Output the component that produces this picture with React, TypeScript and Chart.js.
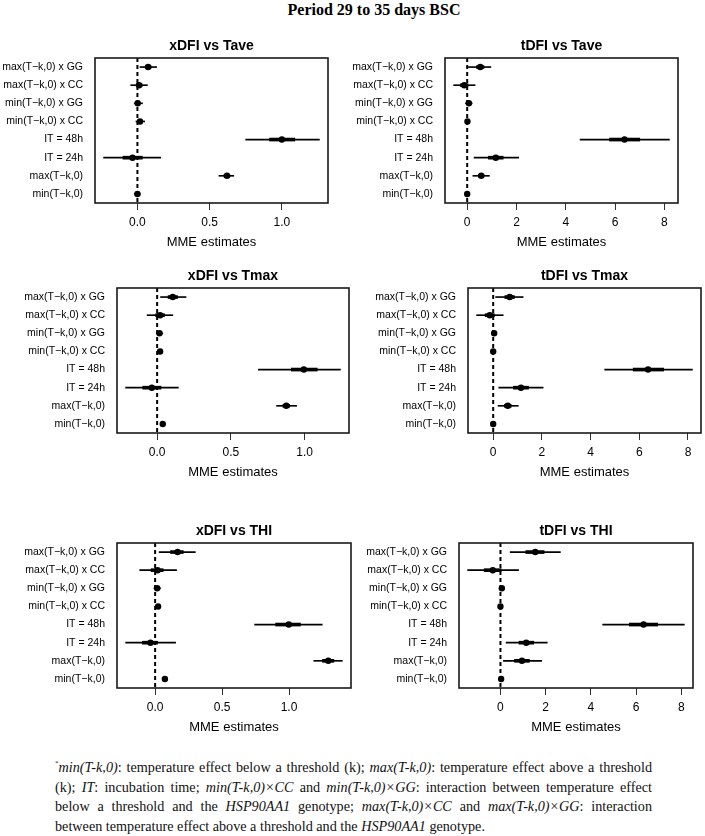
import React, { useEffect, useRef } from 'react';
import { Chart, registerables } from 'chart.js';

Chart.register(...registerables);
Chart.defaults.font.family = '"Liberation Sans", Arial, Helvetica, sans-serif';
Chart.defaults.color = '#000';

// Terms (top to bottom)
const termLabels = [
  'max(T−k,0) x GG',
  'max(T−k,0) x CC',
  'min(T−k,0) x GG',
  'min(T−k,0) x CC',
  'IT = 48h',
  'IT = 24h',
  'max(T−k,0)',
  'min(T−k,0)',
];

const xdfiTicks = [0, 0.5, 1.0];
const tdfiTicks = [0, 2, 4, 6, 8];

// xDFI vs Tave
const xTaveEst = [0.074, 0.012, 0.002, 0.018, 1.0, -0.034, 0.62, 0.0];
const xTaveLo95 = [0.018, -0.046, -0.022, -0.01, 0.75, -0.234, 0.565, -0.022];
const xTaveHi95 = [0.133, 0.069, 0.035, 0.05, 1.26, 0.161, 0.667, 0.02];
const xTaveLo50 = [0.054, -0.008, -0.01, 0.007, 0.915, -0.1, 0.6, -0.008];
const xTaveHi50 = [0.094, 0.032, 0.015, 0.029, 1.09, 0.034, 0.64, 0.008];

// tDFI vs Tave
const tTaveEst = [0.53, -0.12, 0.07, 0.01, 6.38, 1.16, 0.57, 0.0];
const tTaveLo95 = [0.05, -0.55, -0.07, -0.06, 4.58, 0.28, 0.23, -0.05];
const tTaveHi95 = [0.96, 0.32, 0.2, 0.08, 8.2, 2.09, 0.9, 0.05];
const tTaveLo50 = [0.38, -0.27, 0.03, -0.02, 5.77, 0.86, 0.46, -0.02];
const tTaveHi50 = [0.68, 0.03, 0.12, 0.04, 7.0, 1.46, 0.68, 0.02];

// xDFI vs Tmax
const xTmaxEst = [0.106, 0.02, 0.016, 0.02, 0.995, -0.036, 0.876, 0.038];
const xTmaxLo95 = [0.023, -0.068, -0.006, 0.002, 0.687, -0.214, 0.81, 0.022];
const xTmaxHi95 = [0.196, 0.106, 0.038, 0.038, 1.243, 0.144, 0.946, 0.054];
const xTmaxLo50 = [0.074, -0.01, 0.008, 0.014, 0.91, -0.098, 0.853, 0.032];
const xTmaxHi50 = [0.138, 0.05, 0.024, 0.026, 1.086, 0.026, 0.899, 0.044];

// tDFI vs Tmax
const tTmaxEst = [0.68, -0.14, 0.04, 0.0, 6.36, 1.14, 0.6, 0.0];
const tTmaxLo95 = [0.1, -0.68, -0.05, -0.06, 4.58, 0.23, 0.2, -0.05];
const tTmaxHi95 = [1.23, 0.41, 0.13, 0.06, 8.18, 2.05, 1.03, 0.05];
const tTmaxLo50 = [0.48, -0.33, 0.01, -0.02, 5.75, 0.83, 0.46, -0.02];
const tTmaxHi50 = [0.87, 0.05, 0.07, 0.02, 7.0, 1.45, 0.74, 0.02];

// xDFI vs THI
const xThiEst = [0.168, 0.018, 0.015, 0.022, 0.998, -0.035, 1.293, 0.073];
const xThiLo95 = [0.03, -0.115, -0.008, 0.002, 0.743, -0.22, 1.185, 0.055];
const xThiHi95 = [0.3, 0.16, 0.04, 0.042, 1.248, 0.153, 1.398, 0.09];
const xThiLo50 = [0.115, -0.03, 0.006, 0.014, 0.9, -0.095, 1.25, 0.066];
const xThiHi50 = [0.21, 0.06, 0.024, 0.03, 1.085, 0.018, 1.335, 0.08];

// tDFI vs THI
const tThiEst = [1.54, -0.34, 0.06, 0.0, 6.33, 1.14, 0.95, 0.03];
const tThiLo95 = [0.43, -1.45, -0.05, -0.05, 4.52, 0.25, 0.13, -0.04];
const tThiHi95 = [2.65, 0.8, 0.17, 0.06, 8.13, 2.07, 1.82, 0.1];
const tThiLo50 = [1.12, -0.72, 0.02, -0.02, 5.7, 0.82, 0.62, 0.0];
const tThiHi50 = [1.93, 0.03, 0.1, 0.02, 6.95, 1.47, 1.28, 0.06];

type PanelDef = {
  title: string;
  est: number[];
  lo95: number[];
  hi95: number[];
  lo50: number[];
  hi50: number[];
  ticks: number[];
  decimals: number;
  left: number;
  top: number;
  w: number;
};

const Y_W = 95;
const TITLE_BLOCK = 26;
const BOX_H = 145;
const X_H = 50;
const RIGHT_PAD = 4;

const panels: PanelDef[] = [
  { title: 'xDFI vs Tave', est: xTaveEst, lo95: xTaveLo95, hi95: xTaveHi95, lo50: xTaveLo50, hi50: xTaveHi50, ticks: xdfiTicks, decimals: 1, left: 95, top: 58, w: 233 },
  { title: 'tDFI vs Tave', est: tTaveEst, lo95: tTaveLo95, hi95: tTaveHi95, lo50: tTaveLo50, hi50: tTaveHi50, ticks: tdfiTicks, decimals: 0, left: 445, top: 58, w: 233 },
  { title: 'xDFI vs Tmax', est: xTmaxEst, lo95: xTmaxLo95, hi95: xTmaxHi95, lo50: xTmaxLo50, hi50: xTmaxHi50, ticks: xdfiTicks, decimals: 1, left: 117, top: 288, w: 232 },
  { title: 'tDFI vs Tmax', est: tTmaxEst, lo95: tTmaxLo95, hi95: tTmaxHi95, lo50: tTmaxLo50, hi50: tTmaxHi50, ticks: tdfiTicks, decimals: 0, left: 468, top: 288, w: 233 },
  { title: 'xDFI vs THI', est: xThiEst, lo95: xThiLo95, hi95: xThiHi95, lo50: xThiLo50, hi50: xThiHi50, ticks: xdfiTicks, decimals: 1, left: 117, top: 543, w: 234 },
  { title: 'tDFI vs THI', est: tThiEst, lo95: tThiLo95, hi95: tThiHi95, lo50: tThiLo50, hi50: tThiHi50, ticks: tdfiTicks, decimals: 0, left: 459, top: 543, w: 234 },
];

const framePlugin = {
  id: 'frameAndZero',
  beforeDatasetsDraw(chart: any) {
    const { ctx, chartArea, scales } = chart;
    const x0 = scales.x.getPixelForValue(0);
    ctx.save();
    ctx.strokeStyle = '#000';
    ctx.lineWidth = 2;
    ctx.setLineDash([4, 3]);
    ctx.beginPath();
    ctx.moveTo(x0, chartArea.top);
    ctx.lineTo(x0, chartArea.bottom);
    ctx.stroke();
    ctx.restore();
  },
  afterDraw(chart: any) {
    const { ctx, chartArea } = chart;
    ctx.save();
    ctx.strokeStyle = '#1a1a1a';
    ctx.lineWidth = 1.6;
    ctx.strokeRect(chartArea.left, chartArea.top, chartArea.right - chartArea.left, chartArea.bottom - chartArea.top);
    ctx.restore();
  },
};

function Panel({ p }: { p: PanelDef }) {
  const ref = useRef<HTMLCanvasElement>(null);
  const cw = Y_W + p.w + RIGHT_PAD;
  const ch = TITLE_BLOCK + BOX_H + X_H;
  useEffect(() => {
    const lo = Math.min(...p.lo95);
    const hi = Math.max(...p.hi95);
    const pad = (hi - lo) * 0.04;
    const chart = new Chart(ref.current as HTMLCanvasElement, {
      type: 'bar',
      data: {
        labels: termLabels,
        datasets: [
          {
            type: 'line',
            indexAxis: 'y',
            data: p.est,
            showLine: false,
            pointRadius: 3.2,
            pointHoverRadius: 3.2,
            pointBackgroundColor: '#000',
            pointBorderWidth: 0,
            order: 1,
          } as any,
          {
            type: 'bar',
            indexAxis: 'y',
            data: p.lo50.map((v, i) => [v, p.hi50[i]]),
            backgroundColor: '#000',
            borderWidth: 0,
            barThickness: 3,
            grouped: false,
            order: 2,
          } as any,
          {
            type: 'bar',
            indexAxis: 'y',
            data: p.lo95.map((v, i) => [v, p.hi95[i]]),
            backgroundColor: '#000',
            borderWidth: 0,
            barThickness: 1,
            grouped: false,
            order: 3,
          } as any,
        ],
      },
      options: {
        indexAxis: 'y',
        animation: false,
        responsive: false,
        maintainAspectRatio: false,
        devicePixelRatio: 1,
        events: [],
        layout: { padding: { top: 0, right: RIGHT_PAD, bottom: 0, left: 0 } },
        plugins: {
          legend: { display: false },
          tooltip: { enabled: false },
          title: {
            display: true,
            text: p.title,
            fullSize: false,
            color: '#000',
            font: { size: 14, weight: 'bold', lineHeight: 1.2 },
            padding: { top: 6, bottom: 3.2 },
          },
        },
        scales: {
          x: {
            type: 'linear',
            position: 'bottom',
            min: lo - pad,
            max: hi + pad,
            afterBuildTicks: (s: any) => {
              s.ticks = p.ticks.map((v) => ({ value: v }));
            },
            afterFit: (s: any) => {
              s.height = X_H;
            },
            ticks: {
              color: '#000',
              font: { size: 12 },
              padding: 5,
              maxRotation: 0,
              callback: (v: any) => Number(v).toFixed(p.decimals),
            },
            grid: {
              drawOnChartArea: false,
              drawTicks: true,
              tickLength: 7,
              color: '#333',
              lineWidth: 1,
            },
            border: { display: false },
            title: {
              display: true,
              text: 'MME estimates',
              color: '#000',
              font: { size: 13, lineHeight: 1.2 },
              padding: { top: 2, bottom: 3 },
            },
          },
          y: {
            type: 'category',
            position: 'left',
            offset: true,
            afterFit: (s: any) => {
              s.width = Y_W;
            },
            grid: { display: false, drawTicks: false },
            border: { display: false },
            ticks: { color: '#000', font: { size: 10.5 }, padding: 12, autoSkip: false },
          },
        },
      } as any,
      plugins: [framePlugin],
    });
    return () => chart.destroy();
  }, []);
  return (
    <canvas
      ref={ref}
      width={cw}
      height={ch}
      style={{ position: 'absolute', left: p.left - Y_W, top: p.top - TITLE_BLOCK, width: cw, height: ch }}
    />
  );
}

export default function App() {
  const serif = '"Liberation Serif", "Times New Roman", Times, serif';
  const just: React.CSSProperties = { textAlign: 'justify', textAlignLast: 'justify' };
  return (
    <div style={{ position: 'absolute', left: 0, top: 0, width: 705, height: 836, background: '#fff', overflow: 'hidden' }}>
      <div
        style={{
          position: 'absolute',
          left: 274,
          top: 0,
          width: 200,
          textAlign: 'center',
          fontFamily: serif,
          fontWeight: 'bold',
          fontSize: 16,
          lineHeight: '20px',
          color: '#000',
        }}
      >
        Period 29 to 35 days BSC
      </div>
      {panels.map((p) => (
        <Panel key={p.title} p={p} />
      ))}
      <div
        style={{
          position: 'absolute',
          left: 55,
          top: 758,
          width: 597,
          fontFamily: serif,
          fontSize: 14.2,
          lineHeight: '19.5px',
          color: '#111',
        }}
      >
        <div style={just}>
          <span style={{ fontSize: 7, verticalAlign: 'top', lineHeight: '10px' }}>*</span>
          <i>min(T-k,0)</i>: temperature effect below a threshold (k); <i>max(T-k,0)</i>: temperature effect above a threshold
        </div>
        <div style={just}>
          (k); <i>IT</i>: incubation time; <i>min(T-k,0)×CC</i> and <i>min(T-k,0)×GG</i>: interaction between temperature effect
        </div>
        <div style={just}>
          below a threshold and the <i>HSP90AA1</i> genotype; <i>max(T-k,0)×CC</i> and <i>max(T-k,0)×GG</i>: interaction
        </div>
        <div>
          between temperature effect above a threshold and the <i>HSP90AA1</i> genotype.
        </div>
      </div>
    </div>
  );
}
